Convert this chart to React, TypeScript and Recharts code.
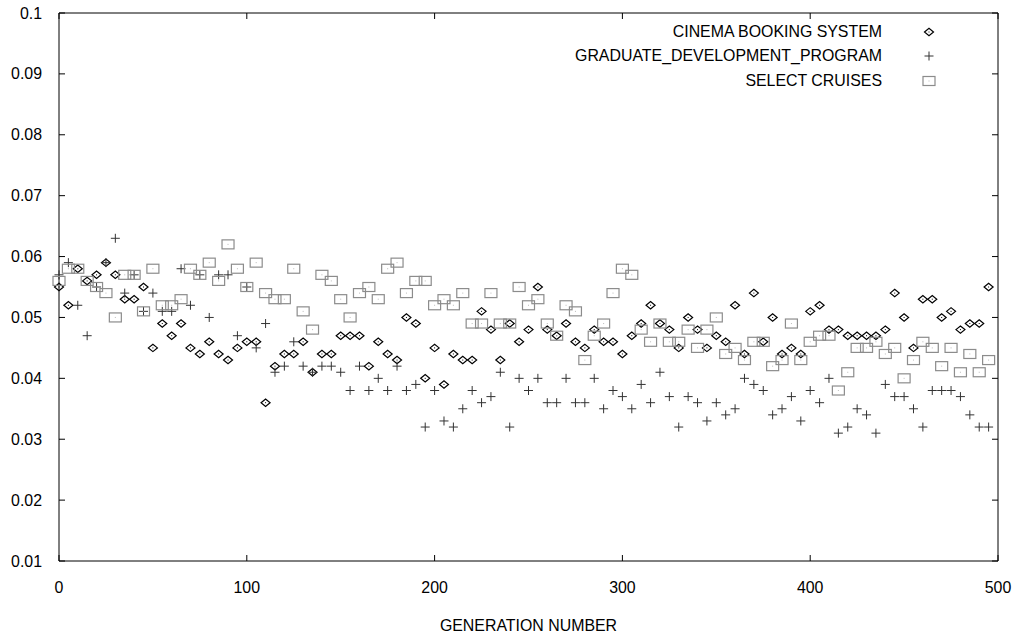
import React from "react"
import { ScatterChart, Scatter, XAxis, YAxis, ReferenceArea, Legend } from "recharts"

const W = 1021
const H = 637
const MARGIN = { top: 13, right: 23, bottom: 0, left: 0 }
const Y_AXIS_W = 59
const X_AXIS_H = 76
const PLOT_TOP = MARGIN.top
const PLOT_RIGHT = W - MARGIN.right
const FONT = '"Liberation Sans", Arial, Helvetica, sans-serif'
const FONT_SIZE = 15.9

const seriesNames = ["CINEMA BOOKING SYSTEM", "GRADUATE_DEVELOPMENT_PROGRAM", "SELECT CRUISES"]

const generations = [
  0, 5, 10, 15, 20, 25, 30, 35, 40, 45, 50, 55, 60, 65, 70, 75, 80, 85, 90, 95,
  100, 105, 110, 115, 120, 125, 130, 135, 140, 145, 150, 155, 160, 165, 170, 175, 180, 185, 190, 195,
  200, 205, 210, 215, 220, 225, 230, 235, 240, 245, 250, 255, 260, 265, 270, 275, 280, 285, 290, 295,
  300, 305, 310, 315, 320, 325, 330, 335, 340, 345, 350, 355, 360, 365, 370, 375, 380, 385, 390, 395,
  400, 405, 410, 415, 420, 425, 430, 435, 440, 445, 450, 455, 460, 465, 470, 475, 480, 485, 490, 495,
]

const cinema = [
  0.055, 0.052, 0.058, 0.056, 0.057, 0.059, 0.057, 0.053, 0.053, 0.055,
  0.045, 0.049, 0.047, 0.049, 0.045, 0.044, 0.046, 0.044, 0.043, 0.045,
  0.046, 0.046, 0.036, 0.042, 0.044, 0.044, 0.046, 0.041, 0.044, 0.044,
  0.047, 0.047, 0.047, 0.042, 0.046, 0.044, 0.043, 0.050, 0.049, 0.040,
  0.045, 0.039, 0.044, 0.043, 0.043, 0.051, 0.048, 0.043, 0.049, 0.046,
  0.048, 0.055, 0.048, 0.047, 0.049, 0.046, 0.045, 0.048, 0.046, 0.046,
  0.044, 0.047, 0.049, 0.052, 0.049, 0.048, 0.045, 0.050, 0.048, 0.045,
  0.047, 0.046, 0.052, 0.044, 0.054, 0.046, 0.050, 0.044, 0.045, 0.044,
  0.051, 0.052, 0.048, 0.048, 0.047, 0.047, 0.047, 0.047, 0.048, 0.054,
  0.050, 0.045, 0.053, 0.053, 0.050, 0.051, 0.048, 0.049, 0.049, 0.055,
]

const graduate = [
  0.057, 0.059, 0.052, 0.047, 0.055, 0.059, 0.063, 0.054, 0.057, 0.051,
  0.054, 0.051, 0.051, 0.058, 0.052, 0.057, 0.050, 0.057, 0.057, 0.047,
  0.055, 0.045, 0.049, 0.041, 0.042, 0.046, 0.042, 0.041, 0.042, 0.042,
  0.041, 0.038, 0.042, 0.038, 0.040, 0.038, 0.042, 0.038, 0.039, 0.032,
  0.038, 0.033, 0.032, 0.035, 0.038, 0.036, 0.037, 0.041, 0.032, 0.040,
  0.038, 0.040, 0.036, 0.036, 0.040, 0.036, 0.036, 0.040, 0.035, 0.038,
  0.037, 0.035, 0.039, 0.036, 0.041, 0.037, 0.032, 0.037, 0.036, 0.033,
  0.036, 0.034, 0.035, 0.040, 0.039, 0.038, 0.034, 0.035, 0.037, 0.033,
  0.038, 0.036, 0.040, 0.031, 0.032, 0.035, 0.034, 0.031, 0.039, 0.037,
  0.037, 0.035, 0.032, 0.038, 0.038, 0.038, 0.037, 0.034, 0.032, 0.032,
]

const cruises = [
  0.056, 0.058, 0.058, 0.056, 0.055, 0.054, 0.050, 0.057, 0.057, 0.051,
  0.058, 0.052, 0.052, 0.053, 0.058, 0.057, 0.059, 0.056, 0.062, 0.058,
  0.055, 0.059, 0.054, 0.053, 0.053, 0.058, 0.051, 0.048, 0.057, 0.056,
  0.053, 0.050, 0.054, 0.055, 0.053, 0.058, 0.059, 0.054, 0.056, 0.056,
  0.052, 0.053, 0.052, 0.054, 0.049, 0.049, 0.054, 0.049, 0.049, 0.055,
  0.052, 0.053, 0.049, 0.047, 0.052, 0.051, 0.043, 0.047, 0.049, 0.054,
  0.058, 0.057, 0.048, 0.046, 0.049, 0.046, 0.046, 0.048, 0.045, 0.048,
  0.050, 0.044, 0.045, 0.043, 0.046, 0.046, 0.042, 0.043, 0.049, 0.043,
  0.046, 0.047, 0.047, 0.038, 0.041, 0.045, 0.045, 0.046, 0.044, 0.045,
  0.040, 0.043, 0.046, 0.045, 0.042, 0.045, 0.041, 0.044, 0.041, 0.043,
]

const xTicks = [0, 100, 200, 300, 400, 500]
const yTicks = [0.01, 0.02, 0.03, 0.04, 0.05, 0.06, 0.07, 0.08, 0.09, 0.1]

const toPoints = (values: number[]) => generations.map((g, i) => ({ gen: g, value: values[i] }))

const cinemaData = toPoints(cinema)
const graduateData = toPoints(graduate)
const cruisesData = toPoints(cruises)

// marker glyphs, gnuplot style
const DiamondGlyph = ({ cx, cy }: { cx: number; cy: number }) => (
  <g>
    <path
      d={`M${cx - 4.5},${cy} L${cx},${cy - 3.7} L${cx + 4.5},${cy} L${cx},${cy + 3.7} Z`}
      fill="none"
      stroke="#000"
      strokeWidth={1.2}
    />
    <rect x={cx - 0.5} y={cy - 0.5} width={1} height={1} fill="#000" />
  </g>
)

const CrossGlyph = ({ cx, cy }: { cx: number; cy: number }) => (
  <g stroke="#333" strokeWidth={1}>
    <line x1={cx - 4.5} y1={cy} x2={cx + 4.5} y2={cy} />
    <line x1={cx} y1={cy - 4.5} x2={cx} y2={cy + 4.5} />
  </g>
)

const SquareGlyph = ({ cx, cy }: { cx: number; cy: number }) => (
  <g>
    <rect x={cx - 6} y={cy - 4.5} width={12} height={9} fill="none" stroke="#8c8c8c" strokeWidth={1.2} />
    <rect x={cx - 0.5} y={cy - 0.5} width={1} height={1} fill="#bbb" />
  </g>
)

const glyphs = [DiamondGlyph, CrossGlyph, SquareGlyph]

const XTick = (props: any) => {
  const { x, y, payload } = props
  return (
    <g>
      <line x1={x} y1={y} x2={x} y2={y - 6} stroke="#000" />
      <line x1={x} y1={PLOT_TOP} x2={x} y2={PLOT_TOP + 6} stroke="#000" />
      <text x={x} y={y + 31.5} textAnchor="middle" fontFamily={FONT} fontSize={FONT_SIZE} fill="#000">
        {payload.value}
      </text>
    </g>
  )
}

const YTick = (props: any) => {
  const { x, y, payload } = props
  return (
    <g>
      <line x1={x} y1={y} x2={x + 6} y2={y} stroke="#000" />
      <line x1={PLOT_RIGHT - 6} y1={y} x2={PLOT_RIGHT} y2={y} stroke="#000" />
      <text x={x - 17} y={y + 5.5} textAnchor="end" fontFamily={FONT} fontSize={FONT_SIZE} fill="#000">
        {String(payload.value)}
      </text>
    </g>
  )
}

const renderLegend = () => (
  <div style={{ position: "relative", width: W, height: 100 }}>
    {seriesNames.map((name, i) => {
      const Glyph = glyphs[i]
      const cy = 31.5 + i * 24.5
      return (
        <React.Fragment key={name}>
          <span
            style={{
              position: "absolute",
              right: W - 882,
              top: cy - 9,
              fontFamily: FONT,
              fontSize: FONT_SIZE,
              lineHeight: "18px",
              whiteSpace: "nowrap",
              color: "#000",
            }}
          >
            {name}
          </span>
          <svg style={{ position: "absolute", left: 919, top: cy - 10 }} width={20} height={20}>
            <Glyph cx={10} cy={10} />
          </svg>
        </React.Fragment>
      )
    })}
  </div>
)

export default function App() {
  return (
    <div style={{ position: "absolute", left: 0, top: 0, width: W, height: H, background: "#fff" }}>
      <ScatterChart width={W} height={H} margin={MARGIN}>
        <XAxis
          type="number"
          dataKey="gen"
          domain={[0, 500]}
          ticks={xTicks}
          height={X_AXIS_H}
          axisLine={false}
          tickLine={false}
          tickSize={0}
          tickMargin={0}
          tick={XTick}
          interval={0}
          label={{
            value: "GENERATION NUMBER",
            position: "insideBottom",
            offset: 6,
            fontFamily: FONT,
            fontSize: FONT_SIZE,
            fill: "#000",
          }}
        />
        <YAxis
          type="number"
          dataKey="value"
          domain={[0.01, 0.1]}
          ticks={yTicks}
          width={Y_AXIS_W}
          axisLine={false}
          tickLine={false}
          tickSize={0}
          tickMargin={0}
          tick={YTick}
          interval={0}
        />
        <ReferenceArea x1={0} x2={500} y1={0.01} y2={0.1} fill="none" stroke="#000" strokeWidth={1} ifOverflow="visible" />
        <Scatter name={seriesNames[0]} data={cinemaData} shape={(p: any) => <DiamondGlyph cx={p.cx} cy={p.cy} />} isAnimationActive={false} />
        <Scatter name={seriesNames[1]} data={graduateData} shape={(p: any) => <CrossGlyph cx={p.cx} cy={p.cy} />} isAnimationActive={false} />
        <Scatter name={seriesNames[2]} data={cruisesData} shape={(p: any) => <SquareGlyph cx={p.cx} cy={p.cy} />} isAnimationActive={false} />
        <Legend
          layout="vertical"
          align="center"
          verticalAlign="middle"
          content={renderLegend}
          wrapperStyle={{ position: "absolute", left: 0, top: 0, width: W, height: 100 }}
        />
      </ScatterChart>
    </div>
  )
}
